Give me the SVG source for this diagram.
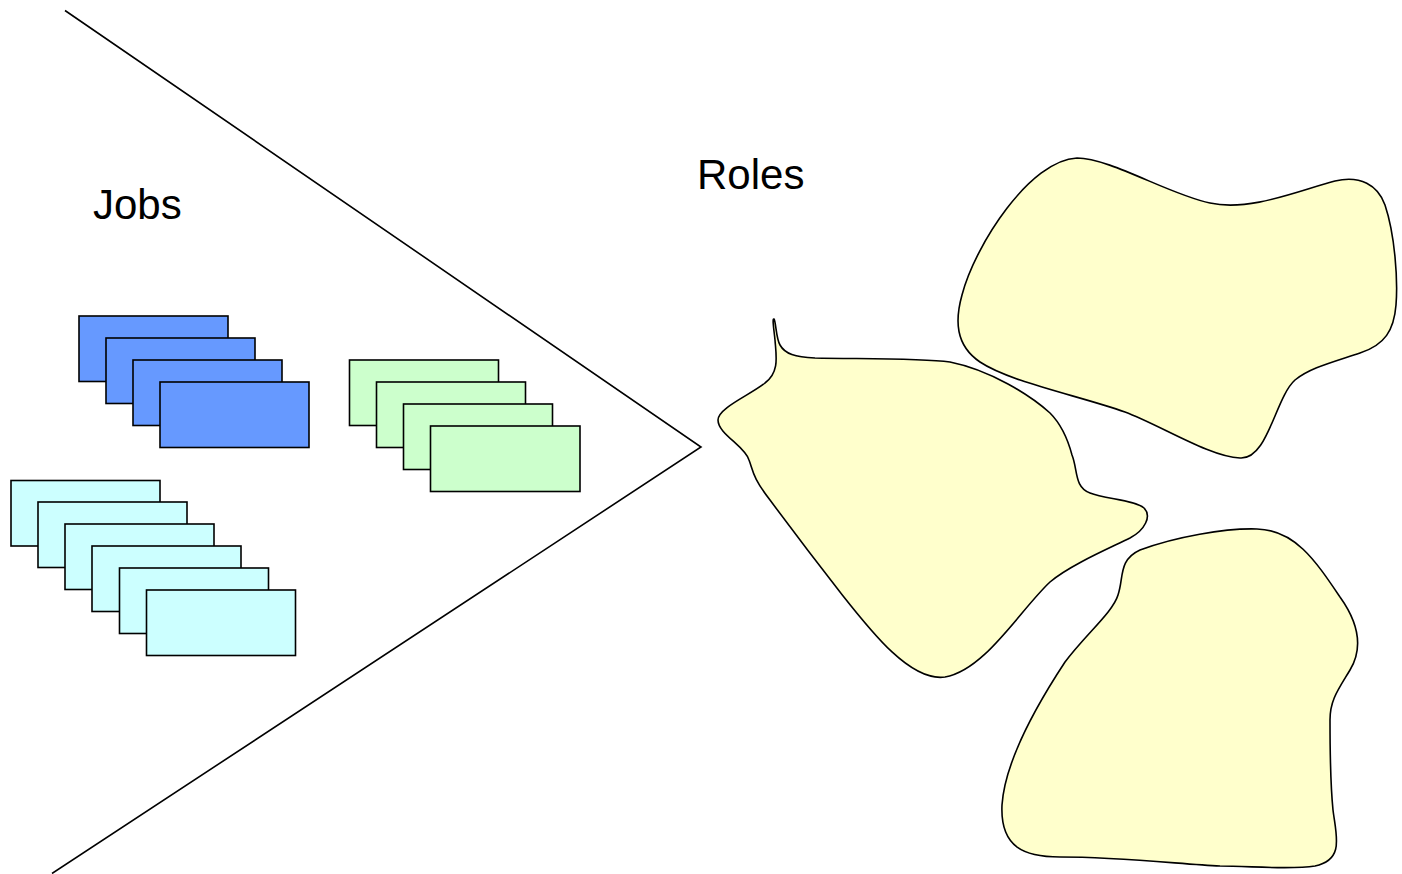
<svg xmlns="http://www.w3.org/2000/svg" width="1402" height="874" viewBox="0 0 1402 874">
<style>
.ln{fill:none;stroke:#000;stroke-width:1.6}
.card{stroke:#000;stroke-width:1.6}
.blue{fill:#6699FF}
.green{fill:#CCFFCC}
.cyan{fill:#CCFFFF}
.blob{fill:#FFFFCC;stroke:#000;stroke-width:1.6}
.lbl{font-family:"Liberation Sans",Arial,sans-serif;font-size:42px;fill:#000}
</style>
<rect width="1402" height="874" fill="#fff"/>
<g id="connectors">
<polyline class="ln" points="65,10.5 701,447 52,873.5"/>
</g>
<g id="label-jobs"><text class="lbl" x="93" y="219">Jobs</text></g>
<g id="label-roles"><text class="lbl" x="697" y="189">Roles</text></g>
<g id="jobs-blue">
<rect class="card blue" x="79" y="316" width="149" height="65.5"/>
<rect class="card blue" x="106" y="338" width="149" height="65.5"/>
<rect class="card blue" x="133" y="360" width="149" height="65.5"/>
<rect class="card blue" x="160" y="382" width="149" height="65.5"/>
</g>
<g id="jobs-green">
<rect class="card green" x="349.5" y="360" width="149" height="65.5"/>
<rect class="card green" x="376.5" y="382" width="149" height="65.5"/>
<rect class="card green" x="403.5" y="404" width="149" height="65.5"/>
<rect class="card green" x="430.5" y="426" width="149.5" height="65.5"/>
</g>
<g id="jobs-cyan">
<rect class="card cyan" x="11" y="480.5" width="149" height="65.5"/>
<rect class="card cyan" x="38" y="502" width="149" height="65.5"/>
<rect class="card cyan" x="65" y="524" width="149" height="65.5"/>
<rect class="card cyan" x="92" y="546" width="149" height="65.5"/>
<rect class="card cyan" x="119.5" y="568" width="149" height="65.5"/>
<rect class="card cyan" x="146.5" y="590" width="149" height="65.5"/>
</g>
<g id="role-top">
<path class="blob" d="M 1077,158 C 1110,158 1170,195 1210,203 C 1250,212 1300,190 1335,181 C 1360,175 1378,185 1385,205 C 1395,235 1398,280 1396,305 C 1394,330 1385,345 1360,353 C 1330,363 1310,368 1295,380 C 1275,398 1268,460 1240,458 C 1210,457 1160,425 1125,412 C 1080,396 1010,382 980,362 C 955,345 955,320 962,295 C 975,245 1030,160 1077,158 Z"/>
</g>
<g id="role-middle">
<path class="blob" d="M 774,319 C 776,322 776,338 780,345 C 785,354 795,357 815,358 C 860,359 920,358 950,362 C 990,370 1030,395 1050,413 C 1062,425 1068,440 1072,455 C 1078,470 1074,487 1090,493 C 1105,499 1135,500 1144,508 C 1152,516 1145,530 1130,538 C 1110,548 1070,565 1050,582 C 1020,610 985,670 945,677 C 910,682 870,630 840,592 C 815,560 790,527 770,500 C 752,477 753,470 749,460 C 745,446 718,434 718,420 C 718,408 750,395 765,383 C 780,372 776,355 775,340 C 774,330 772,318 774,319 Z"/>
</g>
<g id="role-bottom">
<path class="blob" d="M 1257,529 C 1295,530 1315,560 1340,597 C 1360,625 1362,650 1350,670 C 1338,690 1330,700 1330,720 C 1330,760 1331,790 1333,810 C 1336,835 1345,860 1315,866 C 1290,870 1250,866 1220,866 C 1180,864 1120,857 1060,857 C 1025,857 1000,848 1002,805 C 1005,760 1040,700 1065,662 C 1085,635 1113,612 1118,595 C 1124,578 1118,560 1140,550 C 1175,537 1225,528 1257,529 Z"/>
</g>
</svg>
